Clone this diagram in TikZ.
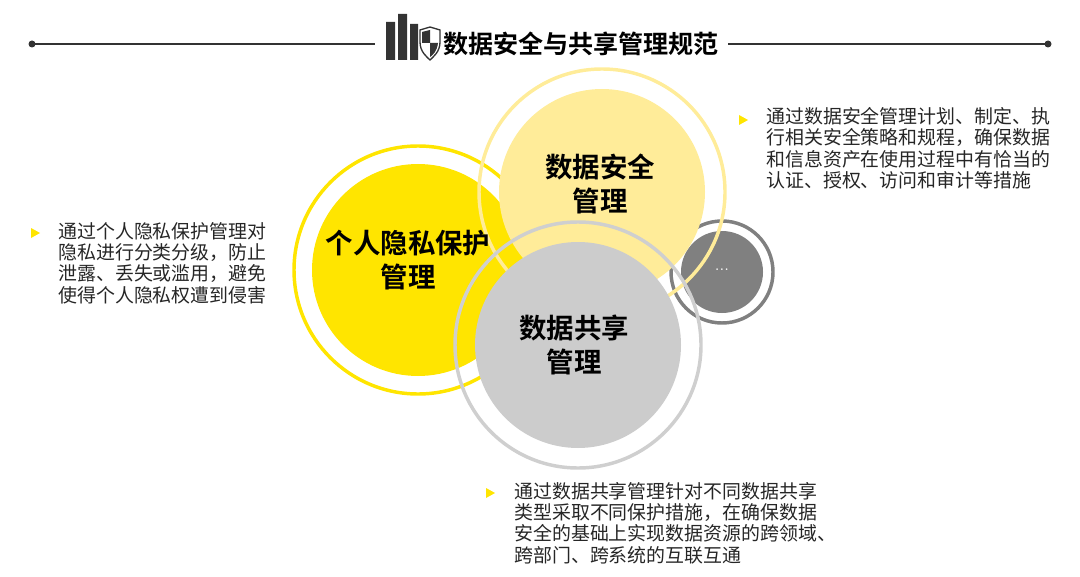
\documentclass[tikz,border=0pt]{standalone}
\usepackage{fontspec}
\newfontfamily\cjk{Noto Sans CJK SC}
\newfontfamily\cjkb{Noto Sans CJK SC Bold}
\begin{document}
\begin{tikzpicture}[x=0.75pt,y=-0.75pt,
  ring/.style={line width=2.6pt},
  lbl/.style={font=\cjkb\fontsize{20.6}{25}\selectfont,align=center,text=black},
  desc/.style={font=\cjk\fontsize{14.2}{16}\selectfont,align=left,anchor=north west,text=black!85,inner sep=0pt},
  bul/.style={fill=yellow!90!orange,draw=none}]
\useasboundingbox (0,0) rectangle (1080,577);
\definecolor{yel}{HTML}{FFE500}
\definecolor{lyel}{HTML}{FFEC99}
\definecolor{lgr}{HTML}{CCCCCC}
\definecolor{dgr}{HTML}{808080}
% title line
\coordinate (l1) at (32,44); \coordinate (l2) at (375,44);
\coordinate (r1) at (728,44); \coordinate (r2) at (1048,44);
\draw[line width=1.3pt,black!80] (l1) -- (l2) (r1) -- (r2);
\fill[black!80] (l1) circle (3.5) (r2) circle (3.5);
% icon
\fill[black!80] (386,22) rectangle (395,60) (398,14) rectangle (407,60) (410,24) rectangle (418,60);
\draw[black!80,fill=white,line width=1pt] (420,30) -- (430,27) -- (440,30) -- (440,42) .. controls (440,52) and (433,57) .. (430,60) .. controls (427,57) and (420,52) .. (420,42) -- cycle;
\fill[black!80] (422,32) -- (430,30) -- (430,43) -- (422,43) -- cycle;
\fill[black!80] (430,43) -- (438,43) .. controls (437,51) and (433,55) .. (430,57) -- cycle;
\node[font=\cjkb\fontsize{18.8}{22}\selectfont,anchor=west,inner sep=0pt] (title) at (443,44) {数据安全与共享管理规范};
% circles
\draw[ring,dgr] (722,272) circle (51);
\fill[dgr] (722,272) circle (41);
\draw[ring,yel] (418,270) circle (124);
\fill[yel] (418,270) circle (106);
\draw[ring,lyel] (602,192) circle (123);
\fill[lyel] (602,192) circle (103);
\draw[ring,lgr!95!white] (578,345) circle (123);
\fill[lgr] (578,345) circle (103);
\node[lbl] (a) at (408,260) {个人隐私保护\\管理};
\node[lbl] (b) at (600,184) {数据安全\\管理};
\node[lbl] (c) at (574,345) {数据共享\\管理};
\node[font=\fontsize{13}{14}\selectfont,text=white] (d) at (722,270) {...};
% descriptions
\fill[yel] (31,228) -- (40,233) -- (31,238) -- cycle;
\node[desc] (t1) at (58,222) {通过个人隐私保护管理对\\隐私进行分类分级，防止\\泄露、丢失或滥用，避免\\使得个人隐私权遭到侵害};
\fill[yel] (739,115) -- (748,120) -- (739,125) -- cycle;
\node[desc] (t2) at (766,107) {通过数据安全管理计划、制定、执\\行相关安全策略和规程，确保数据\\和信息资产在使用过程中有恰当的\\认证、授权、访问和审计等措施};
\fill[yel] (486,488) -- (495,493) -- (486,498) -- cycle;
\node[desc] (t3) at (514,482) {通过数据共享管理针对不同数据共享\\类型采取不同保护措施，在确保数据\\安全的基础上实现数据资源的跨领域、\\跨部门、跨系统的互联互通};
\end{tikzpicture}
\end{document}
